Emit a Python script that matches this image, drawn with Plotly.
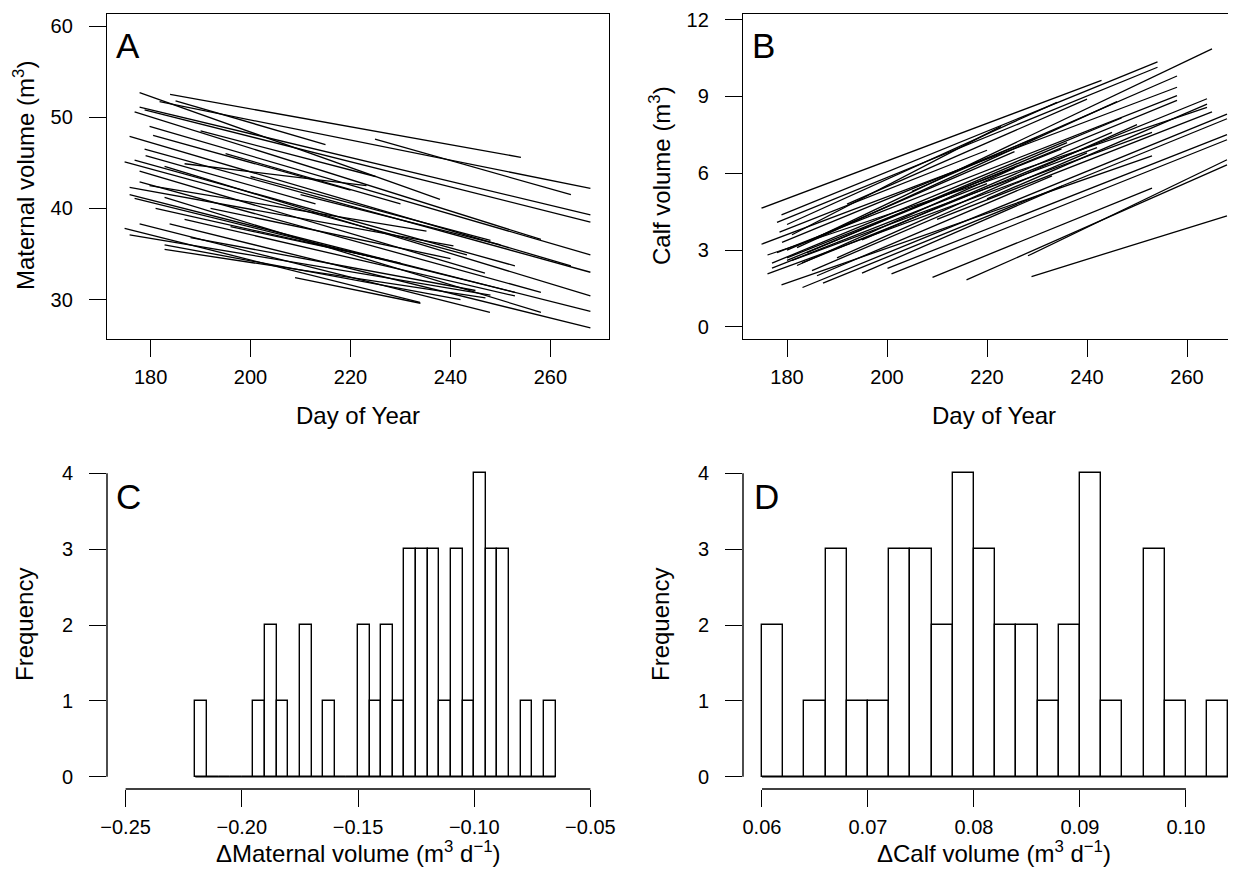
import plotly.graph_objects as go

# ---------------- Panel A: maternal volume lines ----------------
a_day_start = [183.9, 224.9, 177.8, 181.8, 177.8, 178.8, 176.8, 179.8, 175.8, 178.8,
               174.8, 176.8, 177.8, 186.8, 182.8, 177.8, 179.8, 175.8, 175.8, 176.8,
               182.8, 186.8, 177.8, 183.8, 174.8, 175.8, 182.8, 182.8, 208.9, 195.0,
               190.0, 200.0, 180.5, 192.0, 181.0, 188.0, 179.0, 185.0, 196.0, 210.0]
a_vol_start = [52.5, 47.6, 52.7, 51.7, 51.1, 50.8, 50.6, 49.0, 47.9, 46.5,
               45.1, 45.3, 44.1, 44.9, 44.6, 42.9, 42.5, 42.3, 41.5, 41.1,
               41.2, 38.8, 38.3, 38.3, 37.8, 37.1, 36.0, 35.5, 32.4, 46.0,
               48.5, 43.5, 48.0, 40.0, 40.0, 36.8, 45.8, 51.8, 38.0, 41.5]
a_day_end = [254.1, 264.1, 237.9, 268.0, 268.0, 268.0, 258.1, 268.0, 264.1, 268.0,
             243.3, 252.9, 246.9, 223.2, 268.0, 258.1, 235.2, 240.6, 268.0, 252.9,
             258.1, 252.9, 247.9, 268.0, 233.9, 248.0, 242.0, 247.0, 234.0, 230.0,
             225.0, 248.0, 220.0, 240.0, 230.0, 245.0, 213.0, 215.0, 226.0, 250.0]
a_vol_end = [45.6, 41.5, 41.0, 42.2, 39.3, 38.5, 36.6, 34.9, 33.7, 33.0,
             34.9, 33.7, 32.9, 42.5, 30.4, 30.8, 37.5, 35.9, 28.7, 30.8,
             28.6, 30.4, 28.6, 26.9, 29.7, 30.5, 30.0, 30.2, 29.6, 40.5,
             43.5, 36.5, 42.0, 34.5, 34.0, 31.0, 40.5, 47.0, 34.5, 36.0]

# ---------------- Panel B: calf volume lines ----------------
b_day_start = [174.9, 178.9, 178.0, 186.0, 174.9, 178.0, 180.0, 183.0, 176.1, 183.1,
               187.2, 177.0, 176.1, 200.1, 200.9, 178.9, 180.0, 180.0, 182.0, 228.2,
               215.9, 209.1, 228.9, 180.0, 181.0, 185.0, 179.0, 182.0, 190.0, 177.0,
               195.0, 184.0, 181.0, 205.0, 192.0, 186.0, 210.0, 178.5, 195.0, 220.0]
b_vol_start = [4.64, 4.38, 4.08, 3.50, 3.23, 2.90, 2.60, 2.50, 2.81, 1.54,
               1.71, 2.49, 2.07, 2.29, 2.07, 1.64, 2.70, 3.00, 2.40, 2.78,
               1.84, 1.94, 1.97, 4.00, 3.60, 2.20, 3.30, 3.10, 2.70, 2.30,
               3.40, 2.90, 2.60, 5.30, 4.80, 2.00, 4.20, 3.70, 2.10, 5.00]
b_day_end = [242.9, 254.1, 254.1, 265.0, 258.0, 258.0, 258.0, 264.0, 264.0, 268.0,
             268.0, 246.9, 253.0, 268.0, 268.0, 253.0, 234.9, 225.5, 225.5, 268.0,
             268.0, 253.0, 268.0, 234.0, 222.8, 240.0, 230.0, 246.0, 250.0, 220.0,
             245.0, 236.0, 242.0, 258.0, 240.0, 233.0, 265.0, 220.0, 235.0, 264.0]
b_vol_end = [9.63, 10.35, 10.14, 10.86, 9.36, 9.03, 8.85, 8.91, 8.57, 8.31,
             8.13, 8.16, 7.60, 7.51, 7.31, 6.68, 6.95, 6.85, 6.20, 6.53,
             6.33, 5.42, 4.34, 8.77, 7.83, 6.80, 7.40, 8.80, 7.90, 5.60,
             7.60, 7.20, 7.00, 9.80, 8.90, 5.90, 8.40, 6.90, 5.50, 8.70]

# ---------------- Panel C: histogram of maternal change ----------------
c_bin_left = [-0.220, -0.215, -0.210, -0.205, -0.200, -0.195, -0.190, -0.185, -0.180, -0.175,
              -0.170, -0.165, -0.160, -0.155, -0.150, -0.145, -0.140, -0.135, -0.130, -0.125,
              -0.120, -0.115, -0.110, -0.105, -0.100, -0.095, -0.090, -0.085, -0.080, -0.075,
              -0.070]
c_counts = [1, 0, 0, 0, 0, 1, 2, 1, 0, 2,
            0, 1, 0, 0, 2, 1, 2, 1, 3, 3,
            3, 1, 3, 1, 4, 3, 3, 0, 1, 0,
            1]
c_bin_width = 0.005

# ---------------- Panel D: histogram of calf change ----------------
d_bin_left = [0.060, 0.062, 0.064, 0.066, 0.068, 0.070, 0.072, 0.074, 0.076, 0.078,
              0.080, 0.082, 0.084, 0.086, 0.088, 0.090, 0.092, 0.094, 0.096, 0.098,
              0.100, 0.102]
d_counts = [2, 0, 1, 3, 1, 1, 3, 3, 2, 4,
            3, 2, 2, 1, 2, 4, 1, 0, 3, 1,
            0, 1]
d_bin_width = 0.002

day_ticks = [180, 200, 220, 240, 260]
a_ticks = [30, 40, 50, 60]
b_ticks = [0, 3, 6, 9, 12]
freq_ticks = [0, 1, 2, 3, 4]
c_ticks = [-0.25, -0.20, -0.15, -0.10, -0.05]
d_ticks = [0.06, 0.07, 0.08, 0.09, 0.10]

# ---------------- figure ----------------
# the page body has the browser's default 8px margin, so the figure is sized
# to fill the 1236x869 window exactly from that offset
OFF = 8
W, H = 1236 - OFF, 869 - OFF
FONT = "Liberation Sans, Arial, Helvetica, sans-serif"
LW = 1.4


def px(xp):
    return (xp - OFF) / W


def py(yp):
    return 1 - (yp - OFF) / H


def segs(x0, y0, x1, y1):
    xs, ys = [], []
    for a, b, c, d in zip(x0, y0, x1, y1):
        xs += [a, c, None]
        ys += [b, d, None]
    return xs, ys


fig = go.Figure()

xa, ya = segs(a_day_start, a_vol_start, a_day_end, a_vol_end)
fig.add_trace(go.Scatter(x=xa, y=ya, mode="lines", line=dict(color="black", width=1.3),
                         xaxis="x", yaxis="y", hoverinfo="skip"))
xb, yb = segs(b_day_start, b_vol_start, b_day_end, b_vol_end)
fig.add_trace(go.Scatter(x=xb, y=yb, mode="lines", line=dict(color="black", width=1.3),
                         xaxis="x2", yaxis="y2", hoverinfo="skip"))

c_centers = [e + c_bin_width / 2 for e in c_bin_left]
fig.add_trace(go.Bar(x=c_centers, y=c_counts, width=c_bin_width,
                     marker=dict(color="white", line=dict(color="black", width=LW)),
                     xaxis="x3", yaxis="y3"))
fig.add_trace(go.Scatter(x=[c_bin_left[0], c_bin_left[-1] + c_bin_width], y=[0, 0],
                         mode="lines", line=dict(color="black", width=LW),
                         xaxis="x3", yaxis="y3"))

d_centers = [e + d_bin_width / 2 for e in d_bin_left]
fig.add_trace(go.Bar(x=d_centers, y=d_counts, width=d_bin_width,
                     marker=dict(color="white", line=dict(color="black", width=LW)),
                     xaxis="x4", yaxis="y4"))
fig.add_trace(go.Scatter(x=[d_bin_left[0], d_bin_left[-1] + d_bin_width], y=[0, 0],
                         mode="lines", line=dict(color="black", width=LW),
                         xaxis="x4", yaxis="y4"))

tickfont = dict(family=FONT, size=20, color="black")
common = dict(ticks="outside", ticklen=17, tickwidth=LW, tickcolor="black",
              showgrid=False, zeroline=False, tickfont=tickfont, automargin=False,
              linecolor="black", linewidth=LW)
XSO = 3
YSO = 12

left_dom = [px(107), px(609)]
right_dom = [px(743), 1.0]
top_dom = [py(339), py(14)]
bot_dom = [py(789), py(461)]

fig.update_layout(
    width=W, height=H, margin=dict(l=0, r=0, t=0, b=0),
    paper_bgcolor="white", plot_bgcolor="white", showlegend=False,
    bargap=0,
    xaxis=dict(domain=left_dom, range=[171.28, 271.72], tickvals=day_ticks,
               showline=True, mirror=True, anchor="y", ticklabelstandoff=XSO, **common),
    yaxis=dict(domain=top_dom, range=[25.68, 61.32], tickvals=a_ticks,
               showline=True, mirror=True, anchor="x", ticklabelstandoff=YSO, **common),
    xaxis2=dict(domain=right_dom, range=[171.2, 269.8], tickvals=day_ticks,
                showline=True, mirror=True, anchor="y2", ticklabelstandoff=XSO, **common),
    yaxis2=dict(domain=top_dom, range=[-0.47, 12.22], tickvals=b_ticks,
                showline=True, mirror=False, anchor="x2", ticklabelstandoff=YSO, **common),
    xaxis3=dict(domain=left_dom, range=[-0.258, -0.042], tickvals=c_ticks, tickformat=".2f",
                showline=False, anchor="y3", ticklabelstandoff=XSO, **common),
    yaxis3=dict(domain=bot_dom, range=[-0.16, 4.16], tickvals=freq_ticks,
                showline=False, anchor="x3", ticklabelstandoff=YSO, **common),
    xaxis4=dict(domain=right_dom, range=[0.05821, 0.10472], tickvals=d_ticks, tickformat=".2f",
                showline=False, anchor="y4", ticklabelstandoff=XSO, **common),
    yaxis4=dict(domain=bot_dom, range=[-0.16, 4.16], tickvals=freq_ticks,
                showline=False, anchor="x4", ticklabelstandoff=YSO, **common),
)

# detached R-style axis lines for histograms
shape_line = dict(color="black", width=LW)
fig.add_shape(type="line", xref="x3", yref="y3 domain", x0=c_ticks[0], x1=c_ticks[-1], y0=0, y1=0, line=shape_line)
fig.add_shape(type="line", xref="x3 domain", yref="y3", x0=0, x1=0, y0=freq_ticks[0], y1=freq_ticks[-1], line=shape_line)
fig.add_shape(type="line", xref="x4", yref="y4 domain", x0=d_ticks[0], x1=d_ticks[-1], y0=0, y1=0, line=shape_line)
fig.add_shape(type="line", xref="x4 domain", yref="y4", x0=0, x1=0, y0=freq_ticks[0], y1=freq_ticks[-1], line=shape_line)

title_font = dict(family=FONT, size=24, color="black")
letter_font = dict(family=FONT, size=35, color="black")


def ann(text, x, y, font, angle=0, xanchor="center", yanchor="middle"):
    fig.add_annotation(text=text, x=px(x), y=py(y), xref="paper", yref="paper",
                       showarrow=False, font=font, textangle=angle,
                       xanchor=xanchor, yanchor=yanchor)


ann("Day of Year", 358, 415, title_font)
ann("Day of Year", 994, 415, title_font)
ann("Maternal volume (m<sup>3</sup>)", 24, 176, title_font, angle=-90)
ann("Calf volume (m<sup>3</sup>)", 660, 176, title_font, angle=-90)
ann("Frequency", 24, 625, title_font, angle=-90)
ann("Frequency", 660, 625, title_font, angle=-90)
ann("ΔMaternal volume (m<sup>3</sup> d<sup>−1</sup>)", 358, 869, title_font, yanchor="bottom")
ann("ΔCalf volume (m<sup>3</sup> d<sup>−1</sup>)", 994, 869, title_font, yanchor="bottom")

ann("A", 114, 46, letter_font, xanchor="left")
ann("B", 750, 46, letter_font, xanchor="left")
ann("C", 114, 496, letter_font, xanchor="left")
ann("D", 752, 496, letter_font, xanchor="left")

fig.write_html("out.html")
